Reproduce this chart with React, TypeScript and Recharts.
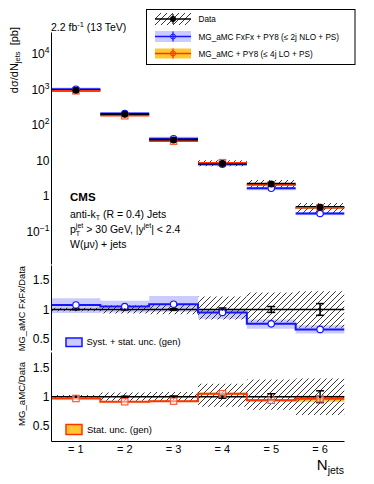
import React from 'react';
import { ComposedChart, Area, Line, Scatter, XAxis, YAxis, ErrorBar } from 'recharts';

const FONT = '"Liberation Sans", Arial, Helvetica, sans-serif';
const BLUE = '#1414ff';
const RED = '#ff3300';
const YELLOW = '#ffc832';

// bins
const nJets = [1, 2, 3, 4, 5, 6];
const binLabels = ['= 1', '= 2', '= 3', '= 4', '= 5', '= 6'];

// dsigma/dNjets [pb]
const dataXsec = [940, 198, 37.8, 8.3, 2.2, 0.49];
const fxfxXsec = [1010, 208, 41, 7.9, 1.66, 0.325];
const loXsec = [910, 181, 35, 8.7, 2.07, 0.473];

// data total uncertainty (relative) + stat error
const dataBandLo = [0.97, 0.93, 0.92, 0.83, 0.78, 0.69];
const dataBandHi = [1.03, 1.07, 1.08, 1.22, 1.29, 1.31];
const dataStat = [0.004, 0.008, 0.012, 0.025, 0.05, 0.1];
const dataRatio = [1, 1, 1, 1, 1, 1];

// MG_aMC FxFx / data
const fxfxRatio = [1.077, 1.05, 1.09, 0.95, 0.755, 0.66];
const fxfxBandLo = [0.94, 0.95, 0.96, 0.84, 0.67, 0.59];
const fxfxBandHi = [1.19, 1.15, 1.23, 1.0, 0.83, 0.73];

// MG_aMC LO / data
const loRatio = [0.97, 0.915, 0.925, 1.05, 0.94, 0.965];
const loBandLo = [0.96, 0.905, 0.915, 1.035, 0.92, 0.915];
const loBandHi = [0.98, 0.925, 0.935, 1.065, 0.96, 1.015];

// axis ticks
const decadeTicks = [0.1, 1, 10, 100, 1000, 10000];
const decadeBase = ['10', '1', '10', '10', '10', '10'];
const decadeExp = ['\u22121', '', '', '2', '3', '4'];
const ratioTicks = [0.5, 1, 1.5];
const ratioLabels = ['0.5', '1', '1.5'];
const ratioMinor = [0.3, 0.4, 0.6, 0.7, 0.8, 0.9, 1.1, 1.2, 1.3, 1.4, 1.6, 1.7];

const minorLog: number[] = [];
for (let d = 0.01; d < 1e5; d *= 10) {
  for (let k = 2; k <= 9; k++) {
    const v = k * d;
    if (v > 0.012 && v < 39500) minorLog.push(v);
  }
}

// step tables (bin edges, last bin repeated)
const edgeIdx = nJets.map((n, i) => ({ x: n - 0.5, i })).concat([{ x: nJets[5] + 0.5, i: 5 }]);

const mainBands = edgeIdx.map(({ x, i }) => ({
  x,
  dataBand: [dataXsec[i] * dataBandLo[i], dataXsec[i] * dataBandHi[i]],
  fxBand: [dataXsec[i] * fxfxBandLo[i], dataXsec[i] * fxfxBandHi[i]],
  loBand: [dataXsec[i] * loBandLo[i], dataXsec[i] * loBandHi[i]],
}));

const mainSegments: any[] = [];
nJets.forEach((n, i) => {
  const v = { data: dataXsec[i], fx: fxfxXsec[i], lo: loXsec[i] };
  mainSegments.push({ x: n - 0.5, ...v });
  mainSegments.push({ x: n + 0.5, ...v });
  mainSegments.push({ x: n + 0.5, data: null, fx: null, lo: null });
});

const mainPoints = nJets.map((n, i) => ({ x: n, data: dataXsec[i], fx: fxfxXsec[i], lo: loXsec[i] }));

const ratioSteps = edgeIdx.map(({ x, i }) => ({
  x,
  one: dataRatio[i],
  dataBand: [dataBandLo[i], dataBandHi[i]],
  fxBand: [fxfxBandLo[i], fxfxBandHi[i]],
  loBand: [loBandLo[i], loBandHi[i]],
  fx: fxfxRatio[i],
  lo: loRatio[i],
}));

const ratioPoints = nJets.map((n, i) => ({ x: n, one: dataRatio[i], stat: dataStat[i], fx: fxfxRatio[i], lo: loRatio[i] }));

const PowTick = (props: any) => {
  const { x, y, payload } = props;
  const idx = decadeTicks.indexOf(payload.value);
  if (idx < 0) return <g />;
  return (
    <text x={x} y={y} dy={4.3} textAnchor="end" fontSize={12} fontFamily={FONT} fill="#000">
      {decadeBase[idx]}
      {decadeExp[idx] ? <tspan dy={-5} fontSize={8.5}>{decadeExp[idx]}</tspan> : null}
    </text>
  );
};

const RatioTick = (props: any) => {
  const { x, y, payload } = props;
  const idx = ratioTicks.indexOf(payload.value);
  return (
    <text x={x} y={y} dy={4.3} textAnchor="end" fontSize={12} fontFamily={FONT} fill="#000">
      {ratioLabels[idx]}
    </text>
  );
};

const BinTick = (props: any) => {
  const { x, y, payload } = props;
  const idx = nJets.indexOf(payload.value);
  return (
    <text x={x} y={y} dy={11.5} textAnchor="middle" fontSize={11} fontFamily={FONT} fill="#000">
      {binLabels[idx]}
    </text>
  );
};

const Empty = () => <g />;
const dataDot = (p: any) => <circle cx={p.cx} cy={p.cy} r={3.5} fill="#000" />;
const smallDot = (p: any) => <circle cx={p.cx} cy={p.cy} r={1.3} fill="#000" />;
const blueCircle = (p: any) => <circle cx={p.cx} cy={p.cy} r={3.2} fill="#fff" stroke={BLUE} strokeWidth={1.2} />;
const redSquare = (p: any) => (
  <rect x={p.cx - 3.2} y={p.cy - 3.2} width={6.4} height={6.4} fill="#fff" fillOpacity={0.5} stroke="#ff5a3c" strokeWidth={1.2} />
);

const frameAxes = (yDomain: number[], yScale: 'log' | 'linear', major: number[], minor: number[], xTick: number) => [
  <XAxis key="xt" xAxisId="xt" type="number" dataKey="x" domain={[0.5, 6.5]} allowDataOverflow orientation="bottom" mirror height={0}
    ticks={nJets} interval={0} tick={Empty} tickSize={xTick} axisLine={{ stroke: '#000' }} tickLine={{ stroke: '#000' }} />,
  <XAxis key="top" xAxisId="top" type="number" domain={[0, 1]} allowDataOverflow orientation="top" mirror height={0}
    tick={false} tickLine={false} axisLine={{ stroke: '#000' }} />,
  <YAxis key="ymaj" yAxisId="ymaj" type="number" scale={yScale} domain={yDomain} allowDataOverflow mirror width={0}
    ticks={major} interval={0} tick={Empty} tickSize={8} axisLine={false} tickLine={{ stroke: '#000' }} />,
  <YAxis key="ymin" yAxisId="ymin" type="number" scale={yScale} domain={yDomain} allowDataOverflow mirror width={0}
    ticks={minor} interval={0} tick={Empty} tickSize={4} axisLine={false} tickLine={{ stroke: '#000' }} />,
  <YAxis key="yr" yAxisId="yr" type="number" domain={[0, 1]} allowDataOverflow orientation="right" mirror width={0}
    tick={false} tickLine={false} axisLine={{ stroke: '#000' }} />,
];

const MainPanel = () => {
  const dom = [0.012, 39500];
  return (
    <ComposedChart width={374} height={266} data={mainBands} margin={{ top: 32.5, right: 29.5, bottom: 1.5, left: 0 }} style={{ overflow: 'visible' }}>
      {frameAxes(dom, 'log', decadeTicks, minorLog, 5)}
      <XAxis xAxisId="x" type="number" dataKey="x" domain={[0.5, 6.5]} allowDataOverflow hide />
      <YAxis yAxisId="y" type="number" scale="log" domain={dom} allowDataOverflow width={51.5} ticks={decadeTicks} interval={0}
        tick={<PowTick />} tickSize={0} tickMargin={2} tickLine={false} axisLine={{ stroke: '#000' }} />
      <Area xAxisId="x" yAxisId="y" type="stepAfter" dataKey="fxBand" fill={BLUE} fillOpacity={0.22} stroke="none" isAnimationActive={false} />
      <Area xAxisId="x" yAxisId="y" type="stepAfter" dataKey="loBand" fill={YELLOW} fillOpacity={1} stroke="none" isAnimationActive={false} />
      <Area xAxisId="x" yAxisId="y" type="stepAfter" dataKey="dataBand" fill="url(#hatch)" fillOpacity={1} stroke="none" isAnimationActive={false} />
      <Line xAxisId="x" yAxisId="y" data={mainSegments} dataKey="fx" stroke={BLUE} strokeWidth={2} dot={false} isAnimationActive={false} />
      <Line xAxisId="x" yAxisId="y" data={mainSegments} dataKey="data" stroke="#000" strokeWidth={2.2} dot={false} isAnimationActive={false} />
      <Line xAxisId="x" yAxisId="y" data={mainSegments} dataKey="lo" stroke={RED} strokeWidth={1.5} dot={false} isAnimationActive={false} />
      <Scatter xAxisId="x" yAxisId="y" data={mainPoints} dataKey="lo" shape={redSquare} isAnimationActive={false} />
      <Scatter xAxisId="x" yAxisId="y" data={mainPoints} dataKey="fx" shape={blueCircle} isAnimationActive={false} />
      <Scatter xAxisId="x" yAxisId="y" data={mainPoints} dataKey="data" shape={dataDot} isAnimationActive={false} />
    </ComposedChart>
  );
};

const RatioPanel = ({ model, height, margin, domain, showX }: any) => {
  const isFx = model === 'fx';
  return (
    <ComposedChart width={374} height={height} data={ratioSteps} margin={margin} style={{ overflow: 'visible' }}>
      {frameAxes(domain, 'linear', ratioTicks, ratioMinor, 4)}
      <XAxis xAxisId="x" type="number" dataKey="x" domain={[0.5, 6.5]} allowDataOverflow hide={!showX} height={30}
        ticks={nJets} interval={0} tick={<BinTick />} tickSize={0} tickMargin={0} tickLine={false} axisLine={{ stroke: '#000' }} />
      <YAxis yAxisId="y" type="number" domain={domain} allowDataOverflow width={51.5} ticks={ratioTicks} interval={0}
        tick={<RatioTick />} tickSize={0} tickMargin={2} tickLine={false} axisLine={{ stroke: '#000' }} />
      <Area xAxisId="x" yAxisId="y" type="stepAfter" dataKey={isFx ? 'fxBand' : 'loBand'} fill={isFx ? BLUE : YELLOW}
        fillOpacity={isFx ? 0.22 : 1} stroke="none" isAnimationActive={false} />
      <Area xAxisId="x" yAxisId="y" type="stepAfter" dataKey="dataBand" fill="url(#hatch)" fillOpacity={1} stroke="none" isAnimationActive={false} />
      <Line xAxisId="x" yAxisId="y" type="stepAfter" dataKey="one" stroke="#000" strokeWidth={1.5} dot={false} isAnimationActive={false} />
      <Line xAxisId="x" yAxisId="y" type="stepAfter" dataKey={model} stroke={isFx ? BLUE : RED} strokeWidth={2} dot={false} isAnimationActive={false} />
      <Scatter xAxisId="x" yAxisId="y" data={ratioPoints} dataKey={model} shape={isFx ? blueCircle : redSquare} isAnimationActive={false} />
      <Scatter xAxisId="x" yAxisId="y" data={ratioPoints} dataKey="one" shape={smallDot} isAnimationActive={false}>
        <ErrorBar dataKey="stat" direction="y" width={4} stroke="#000" strokeWidth={1.5} />
      </Scatter>
    </ComposedChart>
  );
};

const Overlay = () => (
  <svg width={374} height={484} style={{ position: 'absolute', left: 0, top: 0, pointerEvents: 'none' }} fontFamily={FONT}>
    <text x={51} y={30.5} fontSize={10.5}>
      2.2 fb<tspan dy={-4} fontSize={7.5}>-1</tspan><tspan dy={4}>{'\u00a0(13 TeV)'}</tspan>
    </text>
    <text transform="translate(17.5,27) rotate(-90)" textAnchor="end" fontSize={11}>
      d&sigma;/dN<tspan dy={2.5} fontSize={7.5}>jets</tspan><tspan dy={-2.5}>{'\u00a0\u00a0[pb]'}</tspan>
    </text>
    <text transform="translate(25,266) rotate(-90)" textAnchor="end" fontSize={9.3}>MG_aMC FxFx/Data</text>
    <text transform="translate(25,362) rotate(-90)" textAnchor="end" fontSize={9.6}>MG_aMC/Data</text>

    <text x={70} y={200.5} fontSize={11.5} fontWeight="bold">CMS</text>
    <text x={70} y={217.5} fontSize={10.5}>
      anti-k<tspan dy={2.5} fontSize={7}>T</tspan><tspan dy={-2.5}>{'\u00a0(R = 0.4) Jets'}</tspan>
    </text>
    <text x={70} y={232.5} fontSize={10.5}>
      p<tspan dy={-4.5} fontSize={7}>jet</tspan><tspan dx={-7.4} dy={7.5} fontSize={7}>T</tspan>
      <tspan dx={3.2} dy={-3}>{'\u00a0> 30 GeV, |y'}</tspan><tspan dy={-4.5} fontSize={7}>jet</tspan>
      <tspan dy={4.5}>{'| < 2.4'}</tspan>
    </text>
    <text x={70} y={248} fontSize={10.5}>W(&mu;&nu;) + jets</text>

    {/* legend */}
    <rect x={146.5} y={9.5} width={208.5} height={55} fill="#fff" stroke="#000" strokeWidth={1} />
    <rect x={155} y={13} width={36} height={12} fill="url(#hatch)" />
    <line x1={155} x2={191} y1={19} y2={19} stroke="#000" strokeWidth={1.5} />
    <line x1={173} x2={173} y1={14} y2={24} stroke="#000" strokeWidth={1.2} />
    <circle cx={173} cy={19} r={3} fill="#000" />
    <rect x={155} y={31} width={36} height={11} fill={BLUE} fillOpacity={0.22} />
    <line x1={155} x2={191} y1={36.5} y2={36.5} stroke={BLUE} strokeWidth={1.5} />
    <line x1={173} x2={173} y1={31.5} y2={41.5} stroke={BLUE} strokeWidth={1.2} />
    <circle cx={173} cy={36.5} r={2.5} fill="none" stroke={BLUE} strokeWidth={1} />
    <rect x={155} y={48.5} width={36} height={10} fill={YELLOW} />
    <line x1={155} x2={191} y1={53.5} y2={53.5} stroke={RED} strokeWidth={1.5} />
    <line x1={173} x2={173} y1={48.5} y2={58.5} stroke={RED} strokeWidth={1.2} />
    <circle cx={173} cy={53.5} r={2.5} fill="none" stroke={RED} strokeWidth={1} />
    <text x={198.5} y={22} fontSize={8.2}>Data</text>
    <text x={198.5} y={39.5} fontSize={8.2}>MG_aMC FxFx + PY8 (&le; 2j NLO + PS)</text>
    <text x={198.5} y={56.5} fontSize={8.2}>MG_aMC + PY8 (&le; 4j LO + PS)</text>

    {/* ratio legends */}
    <rect x={66} y={338} width={16} height={8.5} fill={BLUE} fillOpacity={0.22} stroke={BLUE} strokeWidth={1.5} />
    <text x={86.5} y={345} fontSize={9.4}>Syst. + stat. unc. (gen)</text>
    <rect x={66} y={424.5} width={16} height={10} fill={YELLOW} stroke={RED} strokeWidth={1.5} />
    <text x={87} y={432.8} fontSize={9.5}>Stat. unc. (gen)</text>

    <text x={344} y={470} textAnchor="end" fontSize={15}>
      N<tspan dy={4} fontSize={10.5}>jets</tspan>
    </text>
  </svg>
);

export default function App() {
  return (
    <div style={{ position: 'absolute', left: 0, top: 0, width: 374, height: 484, background: '#fff', fontFamily: FONT, overflow: 'hidden' }}>
      <svg width={0} height={0} style={{ position: 'absolute' }}>
        <defs>
          <pattern id="hatch" patternUnits="userSpaceOnUse" width={6} height={6}>
            <path d="M-1,1 L1,-1 M0,6 L6,0 M5,7 L7,5" stroke="#222" strokeWidth={0.9} />
          </pattern>
        </defs>
      </svg>
      <div style={{ position: 'absolute', left: 0, top: 0 }}>
        <MainPanel />
      </div>
      <div style={{ position: 'absolute', left: 0, top: 255 }}>
        <RatioPanel model="fx" height={100} margin={{ top: 10.5, right: 29.5, bottom: 4.5, left: 0 }} domain={[0.3, 1.75]} showX={false} />
      </div>
      <div style={{ position: 'absolute', left: 0, top: 345 }}>
        <RatioPanel model="lo" height={139} margin={{ top: 7.5, right: 29.5, bottom: 12.5, left: 0 }} domain={[0.24, 1.75]} showX={true} />
      </div>
      <Overlay />
    </div>
  );
}
